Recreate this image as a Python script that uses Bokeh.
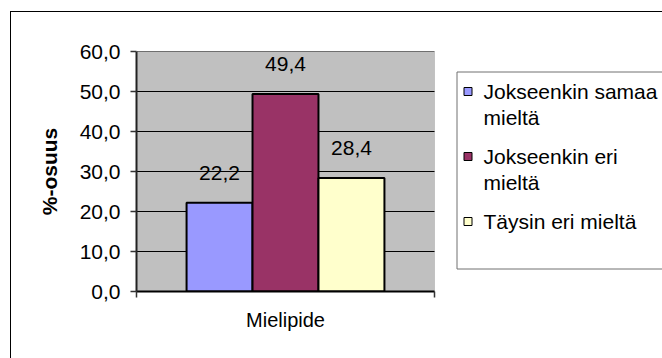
from bokeh.plotting import figure
from bokeh.models import Range1d, FixedTicker, ColumnDataSource, BoxAnnotation
from bokeh.embed import file_html
from bokeh.resources import INLINE
from bokeh.core.properties import value

# ---- data ----
category = "Mielipide"
series = ["Jokseenkin samaa\nmieltä", "Jokseenkin eri\nmieltä", "Täysin eri mieltä"]
values = [22.2, 49.4, 28.4]
colors = ["#9999FF", "#993366", "#FFFFCC"]
y_ticks = [0, 10, 20, 30, 40, 50, 60]
y_title = "%-osuus"

FONT = "Liberation Sans"

# ---- layout (page pixels) ----
W, H = 662, 358
BORDER_X, BORDER_Y = 10, 11           # outer chart border (left / top)
PLOT_L, PLOT_R, PLOT_T, PLOT_B = 136, 434, 51, 291
Y_MAX = y_ticks[-1]

n = len(values)
group_width = 0.664
bar_w = group_width / n
xs = [(i - (n - 1) / 2) * bar_w for i in range(n)]
labels = [f"{v:.1f}".replace(".", ",") for v in values]

# frame extends to the right edge so the legend can live inside it
px_per_x = PLOT_R - PLOT_L
px_per_y = (PLOT_B - PLOT_T) / Y_MAX
x_end = -0.5 + (W - PLOT_L) / px_per_x


def px_x(px):
    return -0.5 + (px - PLOT_L) / px_per_x


def px_y(py):
    return (PLOT_B - py) / px_per_y


src = ColumnDataSource(dict(x=xs, top=values, color=colors, label=labels))

border_bg = (f"linear-gradient(#000,#000) {BORDER_X}px {BORDER_Y}px / 1px {H - BORDER_Y}px no-repeat, "
             f"linear-gradient(#000,#000) {BORDER_X}px {BORDER_Y}px / {W - BORDER_X}px 1px no-repeat, "
             "#ffffff")

p = figure(width=W, height=H,
           x_range=Range1d(-0.5, x_end), y_range=Range1d(0, Y_MAX),
           output_backend="svg", toolbar_location=None,
           min_border_left=PLOT_L, min_border_right=0,
           min_border_top=PLOT_T, min_border_bottom=H - PLOT_B,
           styles={"background": border_bg})

p.background_fill_color = "white"
p.border_fill_alpha = 0
p.outline_line_color = None

# gray plot area with gray top/right border
p.add_layout(BoxAnnotation(left=-0.5, right=0.5, bottom=0, top=Y_MAX,
                           fill_color="#C0C0C0", fill_alpha=1,
                           line_color="#808080", line_width=1,
                           level="underlay"))

# horizontal gridlines across the plot area only
p.segment(x0=[-0.5] * len(y_ticks), x1=[0.5] * len(y_ticks),
          y0=y_ticks, y1=y_ticks, line_color="black", line_width=1)

bars = p.vbar(x="x", width=bar_w, top="top", bottom=0, source=src,
              fill_color="color", line_color="black", line_width=2)

p.text(x="x", y="top", text="label", source=src,
       text_align="center", text_baseline="middle", y_offset=-30,
       text_font=value(FONT), text_font_size="21px", text_color="black")

yax = p.yaxis[0]
yax.ticker = FixedTicker(ticks=y_ticks, minor_ticks=[])
yax.major_label_overrides = {t: f"{t:.1f}".replace(".", ",") for t in y_ticks}
yax.major_label_text_font = FONT
yax.major_label_text_font_size = "21px"
yax.major_label_text_color = "black"
yax.major_tick_in = 0
yax.major_tick_out = 6
yax.major_tick_line_color = "#333333"
yax.major_tick_line_width = 1.5
yax.axis_line_color = "#222222"
yax.axis_line_width = 2
yax.major_label_standoff = 10
yax.axis_label = y_title
yax.axis_label_text_font = FONT
yax.axis_label_text_font_size = "21px"
yax.axis_label_text_font_style = "bold"
yax.axis_label_text_color = "black"
yax.axis_label_standoff = 16

xax = p.xaxis[0]
xax.bounds = (-0.5, 0.5)
xax.ticker = FixedTicker(ticks=[0], minor_ticks=[-0.5, 0.5])
xax.major_label_overrides = {0: category}
xax.major_label_text_font = FONT
xax.major_label_text_font_size = "20px"
xax.major_label_text_color = "black"
xax.major_tick_in = 0
xax.major_tick_out = 0
xax.minor_tick_in = 0
xax.minor_tick_out = 6
xax.minor_tick_line_color = "#333333"
xax.minor_tick_line_width = 1.5
xax.axis_line_color = "black"
xax.axis_line_width = 2
xax.major_label_standoff = 11

p.grid.visible = False

# ---- legend (drawn inside the frame, right of the plot area) ----
LEG_LEFT, LEG_TOP, LEG_BOTTOM = 456.5, 71.5, 268.5
LEG_FIRST, LEG_LINE, LEG_GAP = 91, 26, 13
MARK_X, TEXT_X = 467.5, 483

p.quad(left=[px_x(LEG_LEFT)], right=[x_end + 1], top=[px_y(LEG_TOP)],
       bottom=[px_y(LEG_BOTTOM)], fill_color="white",
       line_color="#707070", line_width=1)

marker_y, line_y, line_text = [], [], []
yy = LEG_FIRST
for s in series:
    parts = s.split("\n")
    marker_y.append(px_y(yy))
    for k, part in enumerate(parts):
        line_text.append(part)
        line_y.append(px_y(yy + k * LEG_LINE))
    yy += len(parts) * LEG_LINE + LEG_GAP

p.scatter(x=[px_x(MARK_X)] * n, y=marker_y, marker="square", size=8,
          fill_color=colors, line_color="black", line_width=1)
p.text(x=[px_x(TEXT_X)] * len(line_text), y=line_y, text=line_text,
       text_align="left", text_baseline="middle",
       text_font=value(FONT), text_font_size="21px", text_color="black")

open("out.html", "w").write(file_html(p, INLINE))
